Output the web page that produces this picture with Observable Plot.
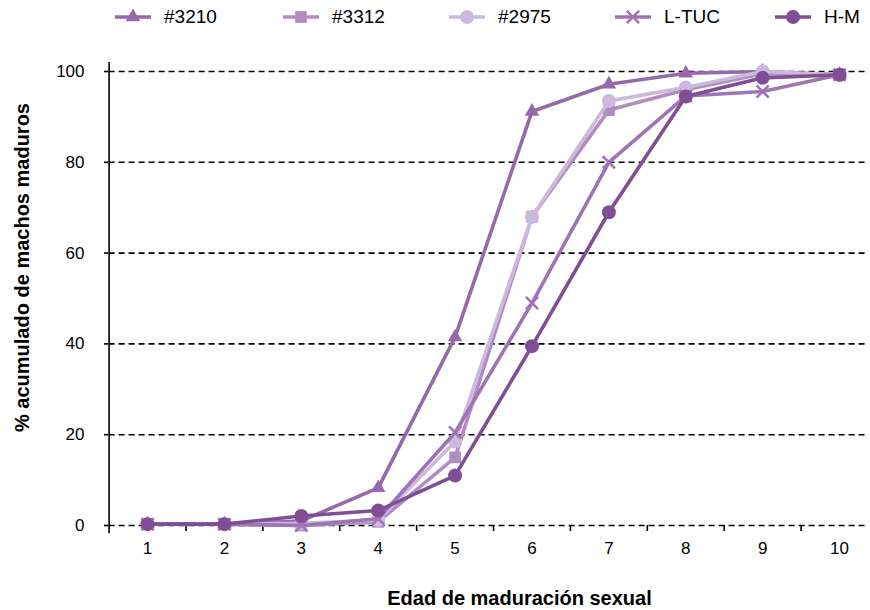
<!DOCTYPE html>
<html>
<head>
<meta charset="utf-8">
<script src="https://cdn.jsdelivr.net/npm/d3@7"></script>
<script src="https://cdn.jsdelivr.net/npm/@observablehq/plot@0.6"></script>
<style>
  html, body { margin: 0; padding: 0; background: #fff; }
  #wrap { position: relative; width: 870px; height: 610px; font-family: "Liberation Sans", Arial, sans-serif; }
  #legend { position: absolute; left: 0; top: 0; width: 870px; height: 36px; }
  .item { position: absolute; top: 4px; height: 26px; display: flex; align-items: center; font-size: 19px; color: #000; }
  .item svg { margin-right: 13px; }
</style>
</head>
<body>
<div id="wrap"><div id="legend"></div></div>
<script>
const categories = [1, 2, 3, 4, 5, 6, 7, 8, 9, 10];
const seriesNames = ["#3210", "#3312", "#2975", "L-TUC", "H-M"];
const s3210 = [0.3, 0.3, 1.0, 8.3, 41.5, 91.2, 97.2, 99.6, 100, 99.3];
const s3312 = [0.3, 0.3, 0.0, 0.8, 15.0, 68.0, 91.5, 96.0, 99.5, 99.3];
const s2975 = [0.3, 0.3, 0.5, 1.2, 18.5, 68.0, 93.5, 96.5, 100, 99.3];
const sLTUC = [0.3, 0.3, 0.0, 1.5, 20.5, 49.0, 80.0, 94.6, 95.6, 99.3];
const sHM   = [0.3, 0.3, 2.1, 3.3, 11.0, 39.5, 69.0, 94.5, 98.6, 99.3];
const seriesValues = [s3210, s3312, s2975, sLTUC, sHM];
const seriesColors = ["#9669aa", "#b08cc3", "#cdb9dc", "#a073b4", "#804e94"];
const seriesSymbols = ["triangle", "square", "circle", "times", "circle"];
const symbolRadius = [5.4, 6.6, 7, 5.6, 7];
const yTicks = [0, 20, 40, 60, 80, 100];
const xBounds = [1.5, 2.5, 3.5, 4.5, 5.5, 6.5, 7.5, 8.5, 9.5];
const xTitle = "Edad de maduración sexual";
const yTitle = "% acumulado de machos maduros";

const rows = [];
seriesNames.forEach((name, i) => {
  categories.forEach((c, j) => rows.push({serie: name, edad: c, pct: seriesValues[i][j]}));
});

const colorCh = {value: "serie", scale: "color"};
const symbolCh = {value: "serie", scale: "symbol"};
const seriesMarks = [];
seriesNames.forEach((name, i) => {
  const d = rows.filter(r => r.serie === name);
  seriesMarks.push(Plot.line(d, {x: "edad", y: "pct", stroke: colorCh, strokeWidth: 3.6, strokeLinejoin: "round"}));
  if (seriesSymbols[i] === "times") {
    seriesMarks.push(Plot.dot(d, {x: "edad", y: "pct", symbol: symbolCh, stroke: colorCh, strokeWidth: 2.6, r: symbolRadius[i]}));
  } else {
    seriesMarks.push(Plot.dot(d, {x: "edad", y: "pct", symbol: symbolCh, fill: colorCh, stroke: "none", r: symbolRadius[i]}));
  }
});

const chart = Plot.plot({
  width: 870,
  height: 610,
  marginTop: 71,
  marginBottom: 85,
  marginLeft: 108,
  marginRight: 0,
  style: {fontFamily: "'Liberation Sans', Arial, sans-serif", fontSize: "17px", color: "#000", background: "transparent"},
  x: {type: "linear", domain: [0.5, 10.5], range: [108.6, 877.5]},
  y: {domain: [0, 100]},
  color: {type: "ordinal", domain: seriesNames, range: seriesColors},
  symbol: {domain: seriesNames, range: seriesSymbols},
  marks: [
    Plot.ruleY(yTicks, {x1: 0.5, x2: 10.36, stroke: "#000", strokeWidth: 1.6, strokeDasharray: "6,4"}),
    Plot.ruleX([0.5], {y1: -1.8, y2: 102, stroke: "#000", strokeWidth: 1.6}),
    Plot.axisY(yTicks, {tickSize: 4, tickPadding: 20, fontSize: 17, strokeWidth: 1.6, label: null}),
    Plot.axisX(categories, {tickSize: 0, tickPadding: 16, fontSize: 17, label: null}),
    Plot.axisX(xBounds, {tickSize: 6, strokeWidth: 1.6, tickFormat: () => "", label: null}),
    ...seriesMarks,
    Plot.text([xTitle], {frameAnchor: "bottom", dx: 30, dy: 73, fontWeight: "bold", fontSize: 20, lineAnchor: "middle"}),
    Plot.text([yTitle], {frameAnchor: "left", textAnchor: "middle", rotate: -90, dx: -86, dy: -31, fontWeight: "bold", fontSize: 20, lineAnchor: "middle"})
  ]
});
document.getElementById("wrap").insertBefore(chart, document.getElementById("legend"));

// Legend
const legendLefts = [115, 283, 449, 615, 775];
const legend = document.getElementById("legend");
seriesNames.forEach((name, i) => {
  const item = document.createElement("div");
  item.className = "item";
  item.style.left = legendLefts[i] + "px";
  const ns = "http://www.w3.org/2000/svg";
  const svg = document.createElementNS(ns, "svg");
  svg.setAttribute("width", 36);
  svg.setAttribute("height", 20);
  const line = document.createElementNS(ns, "line");
  line.setAttribute("x1", 0); line.setAttribute("x2", 36);
  line.setAttribute("y1", 10); line.setAttribute("y2", 10);
  line.setAttribute("stroke", seriesColors[i]);
  line.setAttribute("stroke-width", 3.6);
  svg.appendChild(line);
  const symMap = {triangle: d3.symbolTriangle, square: d3.symbolSquare, circle: d3.symbolCircle, times: d3.symbolTimes};
  const r = symbolRadius[i];
  const path = document.createElementNS(ns, "path");
  path.setAttribute("d", d3.symbol(symMap[seriesSymbols[i]], Math.PI * r * r)());
  path.setAttribute("transform", "translate(18,10)");
  if (seriesSymbols[i] === "times") {
    path.setAttribute("fill", "none");
    path.setAttribute("stroke", seriesColors[i]);
    path.setAttribute("stroke-width", 2.6);
  } else {
    path.setAttribute("fill", seriesColors[i]);
  }
  svg.appendChild(path);
  item.appendChild(svg);
  const span = document.createElement("span");
  span.textContent = name;
  item.appendChild(span);
  legend.appendChild(item);
});
</script>
</body>
</html>
